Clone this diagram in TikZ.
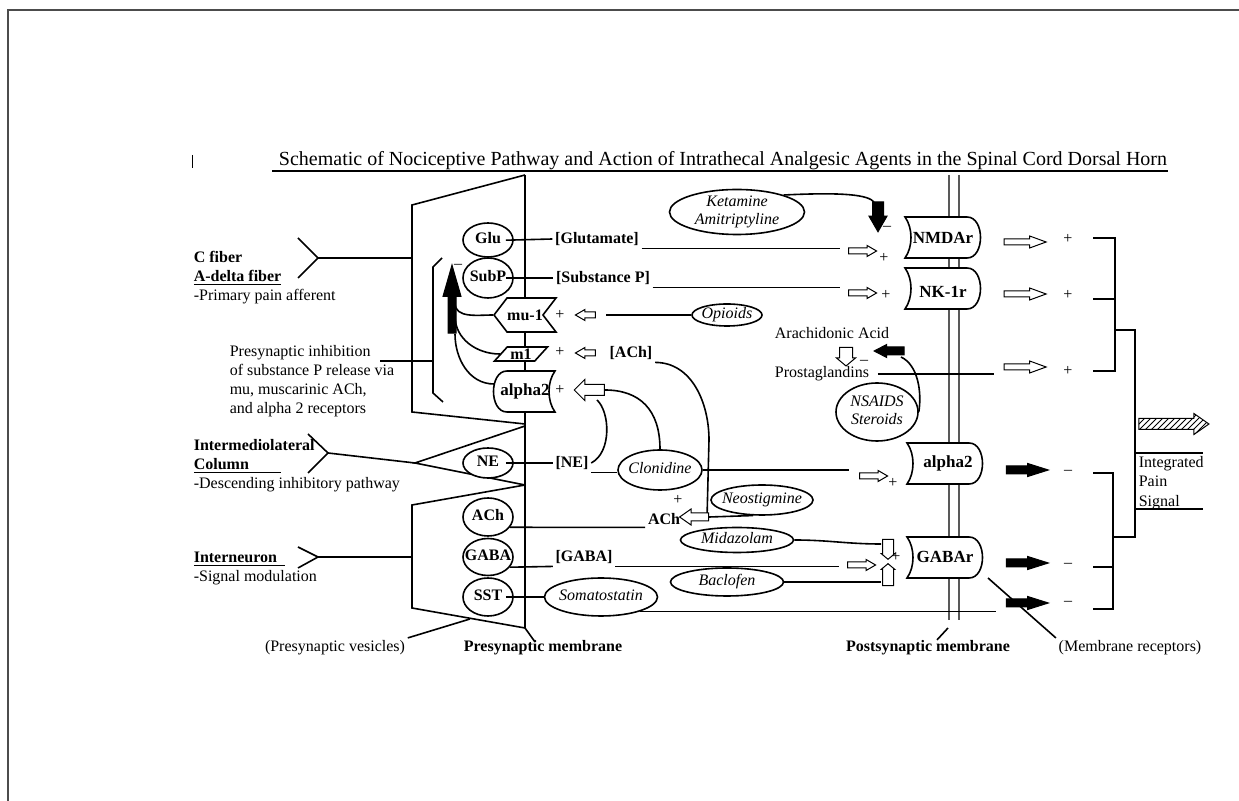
\documentclass[tikz,border=0pt]{standalone}
\usepackage{fontspec}
\setmainfont{Liberation Serif}
\usepackage{tikz}
\usetikzlibrary{calc}
\usetikzlibrary{arrows.meta}
\usetikzlibrary{shapes}
\usetikzlibrary{shapes.geometric}
\usetikzlibrary{shapes.arrows}
\usetikzlibrary{shapes.symbols}
\usetikzlibrary{positioning}
\usetikzlibrary{patterns}
\tikzset{>=latex}
\newcommand{\ctr}[1]{\raisebox{-2pt}[0pt][0pt]{\makebox[0pt]{\begin{tabular}{@{}c@{}}#1\end{tabular}}}}
\tikzstyle{txt} = [draw=none, inner sep=1pt, font=\fontsize{8}{9.5}\selectfont]
\tikzstyle{btxt} = [draw=none, inner sep=1pt, font=\fontsize{8}{9.5}\selectfont\bfseries]
\tikzstyle{sgn} = [draw=none, inner sep=0, font=\fontsize{8}{9}\selectfont]
\tikzstyle{ves} = [ellipse, draw, fill=white, inner sep=0, minimum width=25pt, font=\fontsize{8}{9}\selectfont\bfseries]
\tikzstyle{drug} = [ellipse, draw, fill=white, inner sep=0, font=\fontsize{8}{9}\selectfont\itshape]
\tikzstyle{rcp} = [draw, fill=white, inner sep=0, font=\fontsize{8}{9}\selectfont\bfseries]
\tikzstyle{rtxt} = [draw=none, inner sep=0, font=\fontsize{8.5}{9}\selectfont\bfseries]
\tikzstyle{harr} = [single arrow, draw, fill=white, line width=0.5pt, inner sep=1.25pt, single arrow head extend=1.25pt, single arrow tip angle=60, minimum height=14pt]
\tikzstyle{oarr} = [single arrow, draw, fill=white, line width=0.5pt, inner sep=1.25pt, single arrow head extend=1.5pt, single arrow tip angle=40, minimum height=21pt]
\tikzstyle{barr} = [oarr, fill=black, inner sep=1.75pt, single arrow head extend=1.25pt, single arrow tip angle=35]
\tikzset{
  postrec/.pic = {\draw [fill=white] (0,0) -- (62,0) .. controls (80,0) and (80,41) .. (62,41) -- (0,41) .. controls (8,30) and (8,11) .. cycle;},
  prerec/.pic = {\draw [fill=white] (14,0) -- (62,0) .. controls (54,11) and (54,30) .. (62,41) -- (14,41) .. controls (-4,41) and (-4,0) .. cycle;}
}

\begin{document}
\begin{tikzpicture}[x=0.5pt, y=-0.5pt, line width=0.8pt]
\useasboundingbox (0,0) rectangle (1239,801);
\draw [line width=1pt, black!70] (8,801) -- (8,10) -- (1239,10);
\draw [line width=0.5pt] (192,155) -- (192,168);

\node [draw=none, inner sep=0, font=\fontsize{10}{12}\selectfont] (title) at (723,161) {Schematic of Nociceptive Pathway and Action of Intrathecal Analgesic Agents in the Spinal Cord Dorsal Horn};
\draw [line width=0.6pt] ([xshift=-3pt]title.south west) -- (title.south east);

% membranes and terminals
\draw [black!65, line width=0.7pt] (949,175) -- (949,620);
\draw [black!65, line width=0.7pt] (959,175) -- (959,620);
\draw (525,175) -- (525,628);
\draw (525,175) -- (412,205) -- (412,412) -- (525,424);
\draw (525,426) -- (415,463) -- (525,485);
\draw (525,485) -- (412,505) -- (412,608) -- (525,628);

% fibers
\draw (298,238) -- (318,258) -- (298,278);
\draw (318,258) -- (412,258);
\draw (308,434) -- (328,453) -- (308,473);
\draw (328,453) -- (415,463);
\draw (298,547) -- (318,557) -- (298,568);
\draw (318,557) -- (412,557);
\draw (442,258) -- (433,267) -- (433,393) -- (443,402);
\draw (380,361) -- (433,361);

\node [txt, anchor=west, align=left] (cfib) at (191,278) {\textbf{C fiber}\\\textbf{\underline{A-delta fiber}}\\-Primary pain afferent};
\node [txt, anchor=west, align=left] (imlc) at (191,466) {\textbf{Intermediolateral}\\\textbf{\underline{Column\hspace{16pt}}}\\-Descending inhibitory pathway};
\node [txt, anchor=west, align=left] (intn) at (191,568) {\textbf{\underline{Interneuron\hspace{4pt}}}\\-Signal modulation};
\node [txt, anchor=west, align=left] (pinh) at (227,381) {Presynaptic inhibition\\of substance P release via\\mu, muscarinic ACh,\\and alpha 2 receptors};

% vesicles
\node [ves, minimum height=17pt] (glu) at (488,240) {\ctr{Glu}};
\node [ves, minimum height=20pt] (subp) at (488,278) {\ctr{SubP}};
\node [ves, minimum height=15pt] (ne) at (488,463) {\ctr{NE}};
\node [ves, minimum height=19pt] (ach) at (488,517) {\ctr{ACh}};
\node [ves, minimum height=18.5pt] (gaba) at (488,557) {\ctr{GABA}};
\node [ves, minimum height=19pt] (sst) at (488,597) {\ctr{SST}};

% presynaptic receptors
\node [rcp, signal, signal to=west, signal from=east, signal pointer angle=105, minimum width=31pt, minimum height=17pt] (mu) at (525,315) {mu-1};
\node [rcp, trapezium, trapezium left angle=47, trapezium right angle=133, trapezium stretches=true, minimum width=26.5pt, minimum height=7pt] (m1) at (521,354) {m1};
\pic at (493,371) {prerec};
\node [rtxt] (pa2) at (525,391) {alpha2};
\coordinate (pa2w) at (494,384);

% postsynaptic receptors
\pic at (905,217) {postrec};
\pic at (905,268) {postrec};
\pic at (907,443) {postrec};
\pic at (907,537) {postrec};
\node [rtxt] (nmda) at (943,238) {NMDAr};
\node [rtxt] (nk) at (943,292) {NK-1r};
\node [rtxt] (a2r) at (948,463) {alpha2};
\node [rtxt] (gabar) at (945,557) {GABAr};

% drugs
\node [drug, minimum width=67.5pt, minimum height=22.5pt] (ket) at (737,212) {\ctr{Ketamine\\Amitriptyline}};
\node [drug, minimum width=35pt, minimum height=11pt] (opi) at (727,315) {\ctr{Opioids}};
\node [drug, minimum width=41pt, minimum height=29pt] (nsaid) at (877,412) {\ctr{NSAIDS\\Steroids}};
\node [drug, minimum width=42pt, minimum height=20pt] (clon) at (660,470) {\ctr{Clonidine}};
\node [drug, minimum width=51pt, minimum height=15pt] (neo) at (762,500) {\ctr{Neostigmine}};
\node [drug, minimum width=56.5pt, minimum height=12.5pt] (mida) at (737,540) {\ctr{Midazolam}};
\node [drug, minimum width=56.5pt, minimum height=14pt] (bacl) at (727,582) {\ctr{Baclofen}};
\node [drug, minimum width=56.5pt, minimum height=19pt] (soma) at (601,597) {\ctr{Somatostatin}};

% transmitters
\node [btxt] (glut) at (597,239) {[Glutamate]};
\node [btxt] (subst) at (603,278) {[Substance P]};
\node [btxt] (achb) at (631,353) {[ACh]};
\node [btxt] (neb) at (572,463) {[NE]};
\node [btxt] (gabab) at (584,557) {[GABA]};
\node [btxt] (achf) at (664,519) {ACh};
\node [txt] (arach) at (832,333) {Arachidonic Acid};
\node [txt] (prost) at (822,374) {Prostaglandins};

% block arrows
\node [harr] (aGlu) at (860,251) {};
\node [harr] (aSub) at (860,293) {};
\node [harr] (aNE) at (871,476) {};
\node [harr] (aGab) at (859,565) {};
\node [harr, minimum height=10pt, shape border rotate=180] (aMu) at (588,315) {};
\node [harr, minimum height=10pt, shape border rotate=180] (aM1) at (588,353) {};
\node [harr, minimum height=15pt, inner sep=2.5pt, single arrow head extend=2.5pt, single arrow tip angle=90, shape border rotate=180] (aAl) at (592,390) {};
\node [harr, minimum height=14.5pt, inner sep=1.75pt, single arrow head extend=2pt, single arrow tip angle=70, shape border rotate=180] (aAch) at (697,517) {};
\node [harr, minimum height=8pt, inner sep=3pt, single arrow head extend=1.5pt, single arrow tip angle=100, rotate=-90] (aAra) at (846,354) {};
\node [harr, minimum height=10pt, inner sep=2.5pt, single arrow head extend=0.6pt, single arrow tip angle=100, rotate=-90] (aMid) at (888,547) {};
\node [harr, minimum height=11pt, inner sep=2.5pt, single arrow head extend=0.6pt, single arrow tip angle=100, rotate=90] (aBac) at (888,577) {};
\node [single arrow, draw, fill=black, line width=0.5pt, inner sep=2.5pt, single arrow head extend=1.75pt, single arrow tip angle=60, minimum height=15pt, rotate=-90] (kArr) at (878,212) {};
\node [single arrow, draw, fill=black, line width=0.5pt, inner sep=1.75pt, single arrow head extend=1.25pt, single arrow tip angle=55, minimum height=15pt, shape border rotate=180] (nArr) at (893,351) {};
\node [single arrow, draw, fill=black, line width=0.5pt, inner sep=1.75pt, single arrow head extend=2.5pt, single arrow tip angle=32, minimum height=34pt, rotate=90] (inh) at (452,306) {};

\node [oarr] (oNm) at (1021,242) {};
\node [oarr] (oNk) at (1021,294) {};
\node [oarr] (oPg) at (1021,367) {};
\node [barr] (oAl) at (1021,470) {};
\node [barr] (oGb) at (1021,563) {};
\node [barr] (oSs) at (1021,603) {};
\node [single arrow, draw, pattern=north east lines, line width=0.5pt, inner sep=2.5pt, single arrow head extend=2.5pt, single arrow tip angle=70, minimum height=35pt] (oInt) at (1170,424) {};

% signs
\node [sgn] (pMu) at (560,315) {+};
\node [sgn] (pM1) at (560,352) {+};
\node [sgn] (pAl) at (560,390) {+};
\node [sgn] (mInh) at (458,266) {–};
\node [sgn] (mNm) at (887,228) {–};
\node [sgn] (pNm) at (884,258) {+};
\node [sgn] (pNk) at (886,295) {+};
\node [sgn] (mAra) at (864,362) {–};
\node [sgn] (pA2) at (893,483) {+};
\node [sgn] (pGb) at (896,557) {+};
\node [sgn] (pAch) at (678,500) {+};
\node [sgn] (sNm) at (1068,239) {+};
\node [sgn] (sNk) at (1068,295) {+};
\node [sgn] (sPg) at (1068,371) {+};
\node [sgn] (sAl) at (1068,472) {–};
\node [sgn] (sGb) at (1068,565) {–};
\node [sgn] (sSs) at (1068,603) {–};

% connectors
\draw [shorten <=-4pt] (glu.east) -- (glut.west);
\draw [shorten >=4pt] (glut.south east) -- (glut.south east -| aGlu.tail);
\draw [shorten <=-4pt] (subp.east) -- (subst.west);
\draw [shorten >=4pt] (subst.south east) -- (subst.south east -| aSub.tail);
\draw [shorten >=5pt] (opi.west) -- (aMu.tail);
\draw (achb.south east) to[out=0, in=90] (709,440) -- ($(aAch.tail)+(-2,-4)$);
\draw (aAch.tail) -- (neo.240);
\draw (ach.-25) -- (achf.south west);
\draw [shorten <=-4pt] (ne.east) -- (neb.west);
\draw (neb.south east) -- (neb.south east -| clon.west);
\draw [shorten >=5pt] (clon.east) -- (clon.east -| aNE.tail);
\draw (neb.east) .. controls (612,452) and (610,412) .. ($(aAl.center)+(5,10)$);
\draw (aAl.tail) .. controls (640,390) and (660,410) .. (clon.north);
\draw (gaba.-25) -- (gabab.south west);
\draw [shorten >=4pt] (gabab.south east) -- (gabab.south east -| aGab.tail);
\draw [line width=1.3pt, shorten <=-4pt] (sst.east) -- (soma.west);
\draw [shorten >=5pt] (soma.-20) -- (soma.-20 -| oSs.tail);
\draw (mida.east) to[out=0, in=180] ($(aMid.center)+(-7,-3)$);
\draw (bacl.east) to[out=0, in=180] ($(aBac.center)+(-7,5)$);
\draw (ket.20) .. controls (845,192) and (868,195) .. ($(kArr.center)+(-4,-10)$);
\draw (nsaid.east) .. controls (922,392) and (918,365) .. ($(nArr.center)+(8,6)$);
\draw [shorten >=5pt, shorten <=3pt] (prost.east) -- (prost.east -| oPg.tail);
\draw (mu.west) to[out=180, in=-90] ($(inh.center)+(3,-3)$);
\draw (m1.west) to[out=180, in=-90] ($(inh.center)+(3,10)$);
\draw (pa2w) to[out=180, in=-90] ($(inh.center)+(3,28)$);

% summing brackets
\draw (1093,238) -- (1115,238) -- (1115,371) -- (1093,371);
\draw (1093,299) -- (1115,299);
\draw (1093,473) -- (1113,473) -- (1113,609) -- (1093,609);
\draw (1093,567) -- (1113,567);
\draw (1115,330) -- (1135,330) -- (1135,537) -- (1113,537);
\node [txt, anchor=west, align=left, font=\fontsize{8}{9.75}\selectfont] (ips) at (1136,483) {Integrated\\Pain\\Signal};
\draw (1135,453) -- (1203,453);
\draw (1135,509) -- (1203,509);

% bottom labels
\node [txt] (vesl) at (335,648) {(Presynaptic vesicles)};
\node [btxt] (prem) at (543,648) {Presynaptic membrane};
\node [btxt] (postm) at (928,648) {Postsynaptic membrane};
\node [txt] (memr) at (1130,648) {(Membrane receptors)};
\draw (vesl.north east) -- (470,619);
\draw ($(prem.north)+(-8,4)$) -- (525,628);
\draw ($(postm.north)+(9,2)$) -- (948,628);
\draw (memr.north west) -- (988,578);
\end{tikzpicture}
\end{document}
